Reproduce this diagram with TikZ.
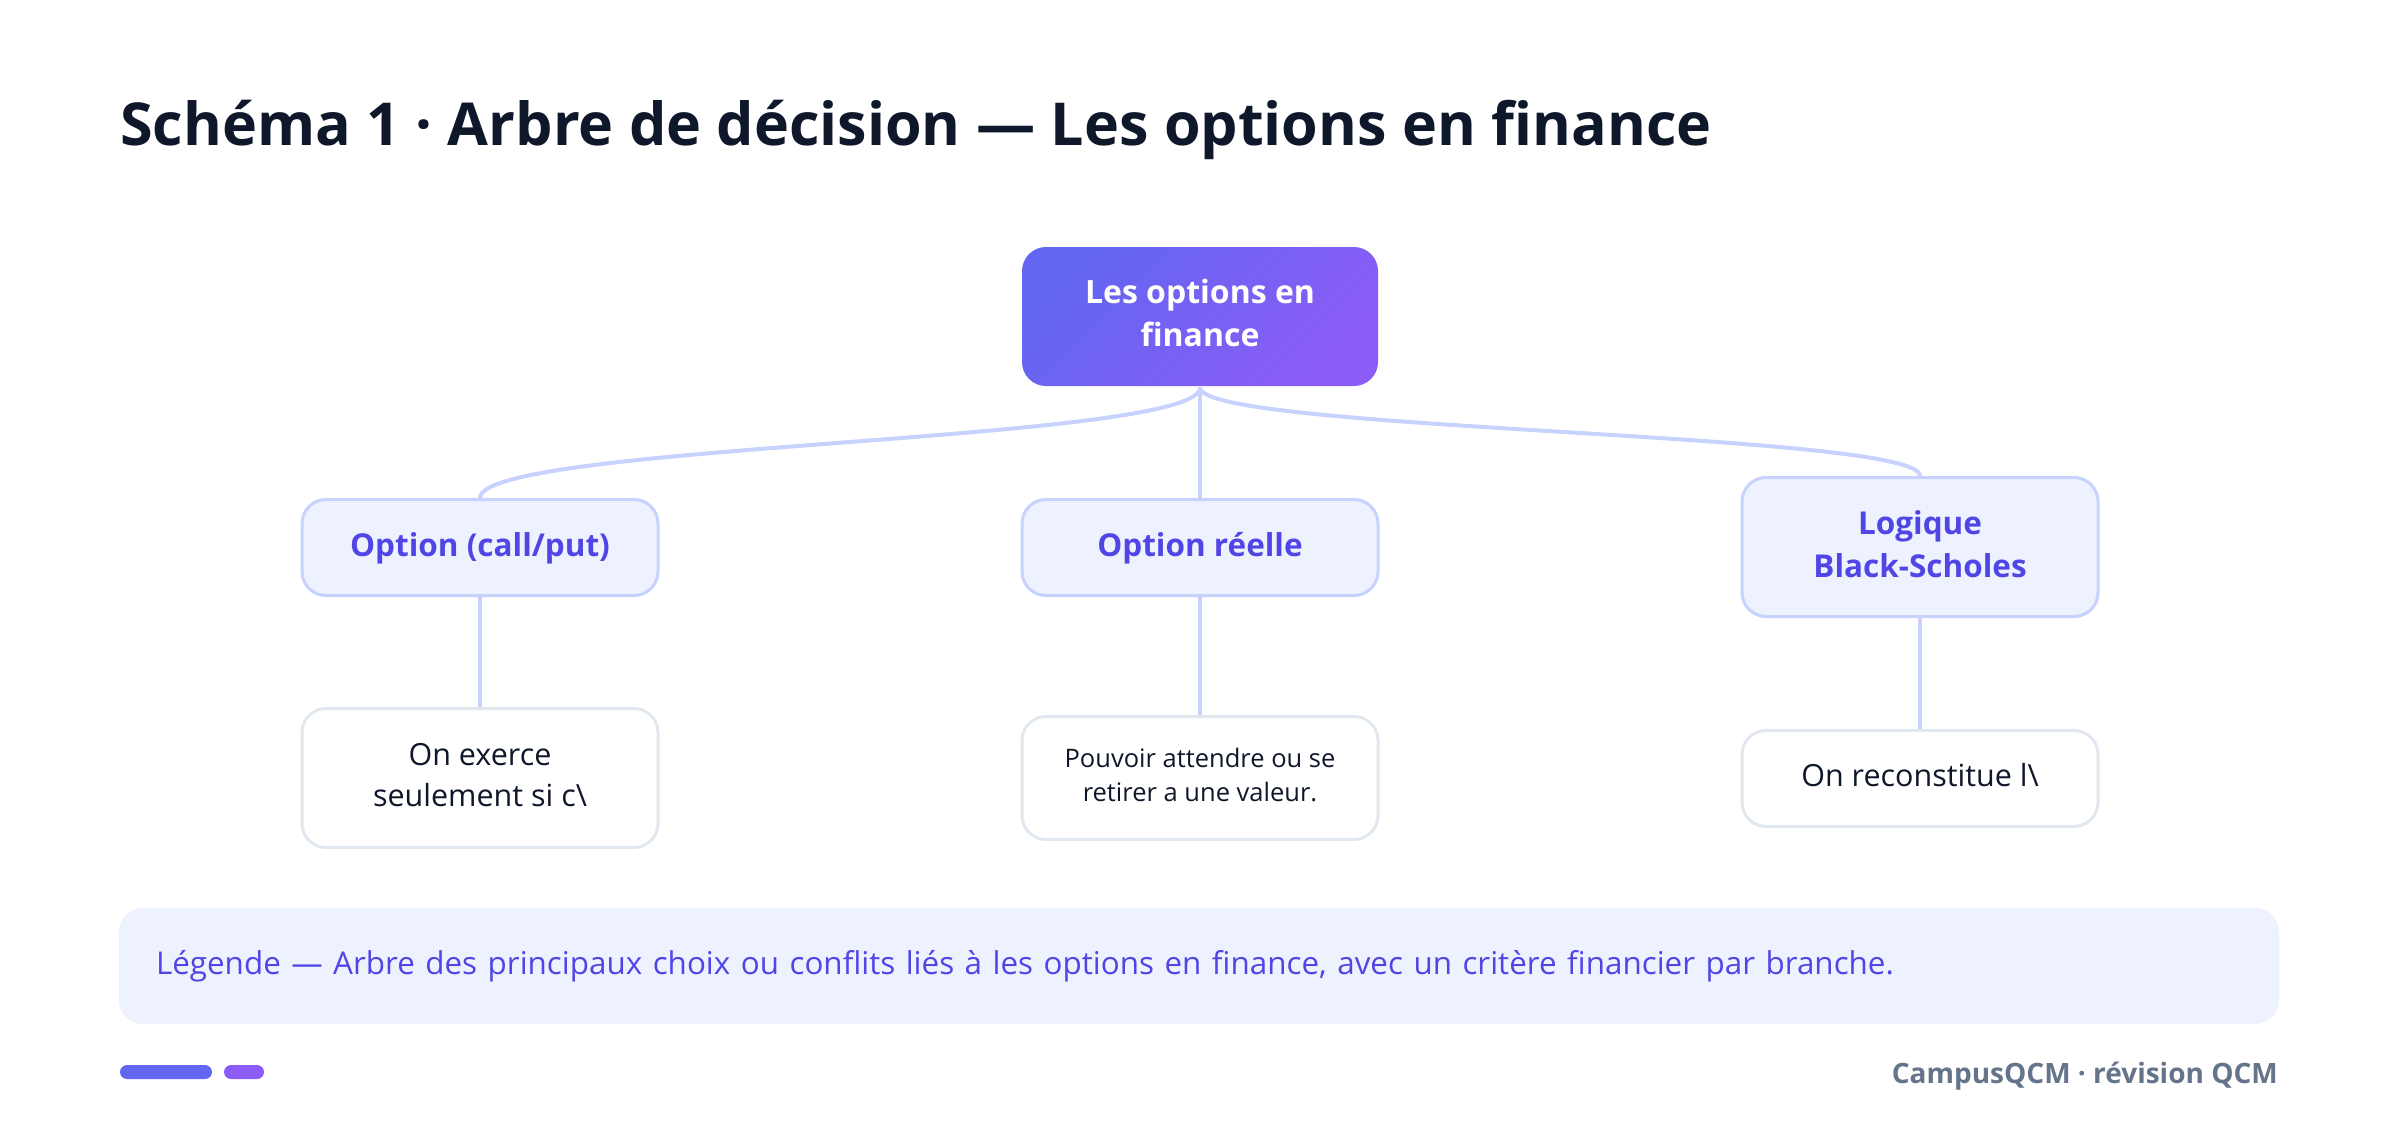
\documentclass[tikz,border=0pt]{standalone}
\usepackage{fontspec}
\setmainfont{Open Sans}
\IfFontExistsTF{Open Sans ExtraBold}
  {\newfontfamily\titlefont{Open Sans ExtraBold}\newcommand\titlesize{\fontsize{56}{64}\selectfont}}
  {\newfontfamily\titlefont{Open Sans}\newcommand\titlesize{\fontsize{59.2}{64}\selectfont\bfseries}}
\IfFontExistsTF{Open Sans SemiBold}
  {\newfontfamily\footfont{Open Sans SemiBold}\newcommand\footsize{\fontsize{29}{32}\selectfont}}
  {\newfontfamily\footfont{Open Sans}\newcommand\footsize{\fontsize{28}{32}\selectfont\bfseries}}
\IfFontExistsTF{Open Sans Medium}
  {\newfontfamily\leaffont{Open Sans Medium}}
  {\newfontfamily\leaffont{Open Sans}}
\newcommand\mlines[1]{\begin{tabular}{@{}c@{}}#1\end{tabular}}
\usetikzlibrary{calc,backgrounds}
\definecolor{indigo}{HTML}{6366F1}
\definecolor{violet}{HTML}{8B5CF6}
\definecolor{indfifty}{HTML}{EEF2FF}
\definecolor{indtwo}{HTML}{C7D2FE}
\definecolor{indsix}{HTML}{4F46E5}
\definecolor{slatetwo}{HTML}{E2E8F0}
\definecolor{slatenine}{HTML}{0F172A}
\definecolor{slatefive}{HTML}{64748B}
\tikzset{
  basebox/.style={rounded corners=24pt, inner sep=0pt, line width=3pt},
  rootbox/.style={basebox, minimum width=356pt, minimum height=139pt, top color=indigo, bottom color=violet, shading angle=45, text=white, font=\fontsize{32}{43}\selectfont\bfseries},
  catbox/.style={basebox, minimum width=356pt, fill=indfifty, draw=indtwo, text=indsix, font=\fontsize{31.5}{43}\selectfont\bfseries},
  leafbox/.style={basebox, minimum width=356pt, fill=white, draw=slatetwo, text=slatenine, font=\leaffont\fontsize{30.5}{41}\selectfont},
  smallleaf/.style={leafbox, font=\leaffont\fontsize{25.5}{34}\selectfont},
  conn/.style={draw=indtwo, line width=4pt},
}
\begin{document}
\begin{tikzpicture}[x=1pt,y=-1pt]
\useasboundingbox (0,0) rectangle (2400,1133);
% title
\node[anchor=base west, inner sep=0pt, text=slatenine, font=\titlefont\titlesize] (title) at (120,145) {Schéma 1 · Arbre de décision — Les options en finance};
% nodes
\node[rootbox] (root) at (1200,316.5) {\mlines{Les options en\\finance}};
\node[catbox, minimum height=96pt] (c1) at (480,547.5) {\mlines{Option (call/put)}};
\node[catbox, minimum height=96pt] (c2) at (1200,547.5) {\mlines{Option réelle}};
\node[catbox, minimum height=139pt] (c3) at (1920,547) {\mlines{Logique\\Black-Scholes}};
\node[leafbox, minimum height=139pt] (l1) at (480,778) {\mlines{On exerce\\seulement si c\textbackslash}};
\node[smallleaf, minimum height=123pt] (l2) at (1200,778) {\mlines{Pouvoir attendre ou se\\retirer a une valeur.}};
\node[leafbox, minimum height=96pt] (l3) at (1920,778.5) {\mlines{On reconstitue l\textbackslash}};
% connectors
\coordinate (m1) at ($(root.south)!0.5!(c1.north)$);
\coordinate (m3) at ($(root.south)!0.5!(c3.north)$);
\begin{scope}[on background layer]
\fill[white] (0,0) rectangle (2400,1133);
\draw[conn] (root.south) .. controls (root.south |- m1) and (c1.north |- m1) .. (c1.north);
\draw[conn] (root.south) -- (c2.north);
\draw[conn] (root.south) .. controls (root.south |- m3) and (c3.north |- m3) .. (c3.north);
\draw[conn] (c1.south) -- (l1.north);
\draw[conn] (c2.south) -- (l2.north);
\draw[conn] (c3.south) -- (l3.north);
\end{scope}
% legend
\node[rounded corners=24pt, fill=indfifty, minimum width=2160pt, minimum height=116pt, inner xsep=37pt, inner ysep=0pt, text width=2086pt, align=left, text=indsix, font=\fontsize{31.4}{36}\selectfont] (legend) at (1199,966) {Légende — Arbre des principaux choix ou conflits liés à les options en finance, avec un critère financier par branche.};
% footer
\fill[indigo, rounded corners=7pt] (120,1065) rectangle (212,1079);
\fill[violet, rounded corners=7pt] (224,1065) rectangle (264,1079);
\node[anchor=base east, inner sep=0pt, text=slatefive, font=\footfont\footsize] (footer) at (2278,1083) {CampusQCM · révision QCM};
\end{tikzpicture}
\end{document}
